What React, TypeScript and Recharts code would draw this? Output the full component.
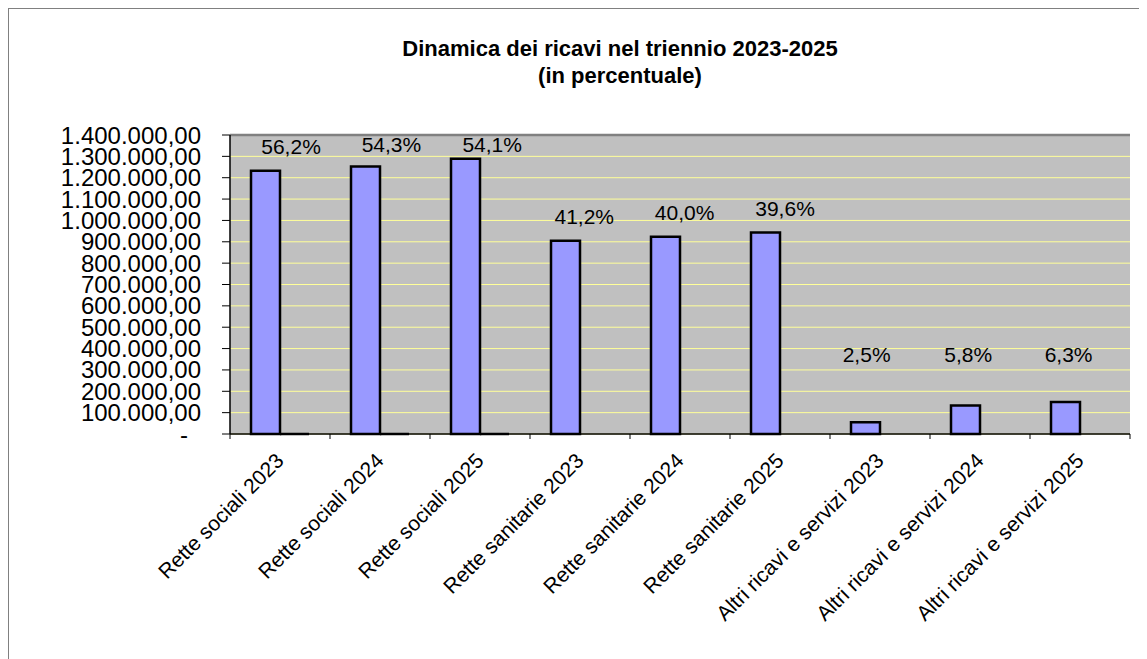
import {
    ComposedChart,
    Bar,
    XAxis,
    YAxis,
    CartesianGrid,
    LabelList,
    ReferenceLine
} from 'recharts';

const categories = [
    'Rette sociali 2023',
    'Rette sociali 2024',
    'Rette sociali 2025',
    'Rette sanitarie 2023',
    'Rette sanitarie 2024',
    'Rette sanitarie 2025',
    'Altri ricavi e servizi 2023',
    'Altri ricavi e servizi 2024',
    'Altri ricavi e servizi 2025'
];
const revenues = [1233000, 1253000, 1289000, 905000, 924000, 944000, 55000, 133000, 150000];
const shareLabels = ['56,2%', '54,3%', '54,1%', '41,2%', '40,0%', '39,6%', '2,5%', '5,8%', '6,3%'];
// second (almost invisible) series: the shares plotted on the same axis
const shareValues = [0.562, 0.543, 0.541, null, null, null, null, null, null];
const yTicks = [0, 100000, 200000, 300000, 400000, 500000, 600000, 700000, 800000, 900000, 1000000, 1100000, 1200000, 1300000, 1400000];
const Y_MAX = 1400000;

const chartData = categories.map((name, i) => ({
    name,
    revenue: revenues[i],
    share: shareValues[i],
    label: shareLabels[i]
}));

const FONT = '"Liberation Sans", Arial, sans-serif';

// 1234567 -> "1.234.567,00", 0 -> "-"
function formatEuro(v: number) {
    if (v === 0) return '-';
    const s = String(Math.round(v)).replace(/\B(?=(\d{3})+(?!\d))/g, '.');
    return s + ',00';
}

function YTick(props: any) {
    const { x, y, payload } = props;
    const zero = payload.value === 0;
    return (
        <text x={zero ? x - 13 : x} y={y} textAnchor="end" dominantBaseline="central"
            fontSize={24} fontFamily={FONT} fill="#000">
            {formatEuro(payload.value)}
        </text>
    );
}

function XTick(props: any) {
    const { x, y, payload, index, visibleTicksCount } = props;
    const off = payload.offset ?? 0;
    const tx = x + 5;
    const ty = y + 28;
    return (
        <g>
            <line x1={x - off} x2={x - off} y1={y} y2={y + 5} stroke="#000" />
            {index === visibleTicksCount - 1 && (
                <line x1={x + off} x2={x + off} y1={y} y2={y + 5} stroke="#000" />
            )}
            <text x={tx} y={ty} transform={`rotate(-45, ${tx}, ${ty})`} textAnchor="end"
                fontSize={21} fontFamily={FONT} fill="#000">
                {payload.value}
            </text>
        </g>
    );
}

// share labels sit above the bars, drifting right as the bar gets taller,
// kept inside the plot area and clear of the short bars
function ShareLabel(props: any) {
    const { x, y, width, height, value, index } = props;
    const ratio = revenues[index] / Y_MAX;
    const base = y + height;
    const plotTop = base - height / ratio;
    const cy = Math.max(plotTop + 9, Math.min(y - 24, base - 80));
    const cx = x + width / 2 + width * ratio;
    return (
        <text x={cx} y={cy} textAnchor="middle" dominantBaseline="central"
            fontSize={21} fontFamily={FONT} fill="#000">
            {value}
        </text>
    );
}

function StubShape(props: any) {
    const { x, y, width, height } = props;
    const base = y + height;
    return <line x1={x} x2={x + width} y1={base} y2={base} stroke="#000" strokeWidth={2.5} />;
}

export default function App() {
    return (
        <div style={{ position: 'relative', width: 1139, height: 651, fontFamily: FONT }}>
            <div style={{
                position: 'absolute', left: -1, top: -1, width: 1140, height: 652,
                boxSizing: 'border-box', borderTop: '2px solid #808080', borderLeft: '2px solid #808080'
            }} />
            <div style={{
                position: 'absolute', left: 0, width: 1224, top: 27, textAlign: 'center',
                fontWeight: 'bold', fontSize: 22, lineHeight: '27px', color: '#000'
            }}>
                Dinamica dei ricavi nel triennio 2023-2025<br />(in percentuale)
            </div>
            <ComposedChart
                width={1139}
                height={651}
                data={chartData}
                margin={{ top: 127, right: 17, bottom: 5, left: 0 }}
                barCategoryGap="21%"
                barGap={0}
                style={{ position: 'absolute', left: 0, top: 0 }}
            >
                <CartesianGrid vertical={false} stroke="#ffff99" fill="#c0c0c0" />
                <XAxis
                    dataKey="name"
                    height={220}
                    interval={0}
                    tickLine={false}
                    tickSize={0}
                    tickMargin={0}
                    axisLine={{ stroke: '#000', strokeWidth: 1.5 }}
                    tick={<XTick />}
                />
                <YAxis
                    width={222}
                    domain={[0, Y_MAX]}
                    ticks={yTicks}
                    interval={0}
                    tickSize={8}
                    tickMargin={21}
                    tickLine={{ stroke: '#000' }}
                    axisLine={{ stroke: '#000', strokeWidth: 1.5 }}
                    tick={<YTick />}
                />
                <YAxis
                    yAxisId="right"
                    orientation="right"
                    width={0}
                    domain={[0, 1]}
                    tick={false}
                    tickLine={false}
                    axisLine={{ stroke: '#808080', strokeWidth: 2.5 }}
                />
                <ReferenceLine y={Y_MAX} stroke="#808080" strokeWidth={2.5} />
                <Bar dataKey="revenue" fill="#9999ff" stroke="#000" strokeWidth={2.5} isAnimationActive={false}>
                    <LabelList dataKey="label" content={<ShareLabel />} />
                </Bar>
                <Bar dataKey="share" fill="#000" shape={<StubShape />} isAnimationActive={false} />
            </ComposedChart>
        </div>
    );
}
